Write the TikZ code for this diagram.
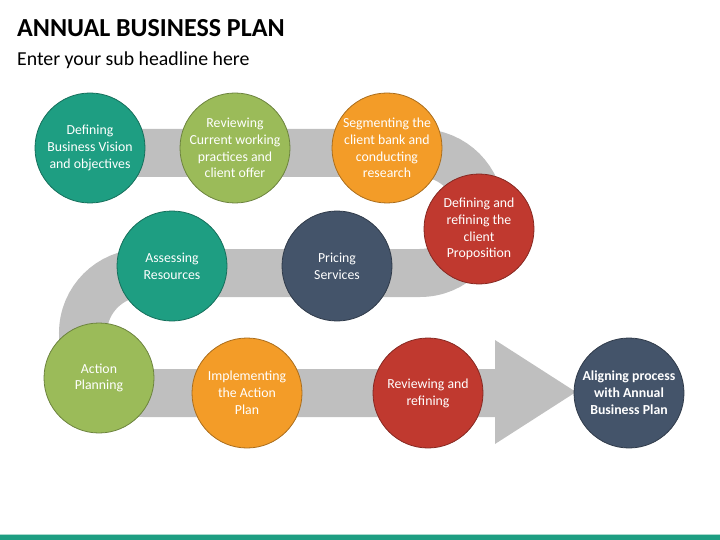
\documentclass[tikz,border=0pt]{standalone}
\usepackage{fontspec}
\setmainfont{Carlito}
\definecolor{cteal}{HTML}{1E9E82}
\definecolor{cgreen}{HTML}{9BBB59}
\definecolor{corange}{HTML}{F39C28}
\definecolor{cred}{HTML}{C0392F}
\definecolor{cslate}{HTML}{44546A}
\definecolor{cband}{HTML}{BFBFBF}
\definecolor{clight}{HTML}{A9D9CD}
\begin{document}
\begin{tikzpicture}[x=1pt,y=-1pt,
  stage/.style={circle,minimum size=110pt,inner sep=0pt,line width=0.8pt,
    text=white,align=center,font=\fontsize{13.8}{16.8}\selectfont},
  tealc/.style={stage,fill=cteal,draw=cteal!70!black},
  greenc/.style={stage,fill=cgreen,draw=cgreen!70!black},
  orangec/.style={stage,fill=corange,draw=corange!70!black},
  redc/.style={stage,fill=cred,draw=cred!70!black},
  slatec/.style={stage,fill=cslate,draw=cslate!70!black},
  band/.style={draw=cband,line width=48pt,line cap=butt}]
\useasboundingbox (0,0) rectangle (720,540);
% title
\node[anchor=base west,inner sep=0pt,font=\fontsize{26}{30}\selectfont\bfseries] (title) at (17,37) {ANNUAL BUSINESS PLAN};
\node[anchor=base west,inner sep=0pt,font=\fontsize{19.8}{23}\selectfont] (sub) at (17,66) {Enter your sub headline here};
% band
\draw[band] (90,153) -- (420,153) arc[start angle=-90,end angle=90,radius=60]
  -- (143,273) arc[start angle=270,end angle=90,radius=60] -- (497,393);
\fill[cband] (495,340) -- (576,392) -- (495,444) -- cycle;
% circles
\node[tealc] (c1) at (90,148) {Defining\\Business Vision\\and objectives};
\node[greenc] (c2) at (235,148) {Reviewing\\Current working\\practices and\\client offer};
\node[orangec] (c3) at (387,148) {Segmenting the\\client bank and\\conducting\\research};
\node[redc] (c4) at (479,229) {Defining and\\refining the\\client\\Proposition};
\node[tealc] (c5) at (172,266) {Assessing\\Resources};
\node[slatec] (c6) at (337,266) {Pricing\\Services};
\node[greenc] (c7) at (99,378) {Action\\Planning};
\node[orangec] (c8) at (247,393) {Implementing\\the Action\\Plan};
\node[redc] (c9) at (428,393) {Reviewing and\\refining};
\node[slatec,font=\fontsize{13.8}{16.8}\selectfont\bfseries] (c10) at (629,393) {Aligning process\\with Annual\\Business Plan};
% bottom bar
\fill[clight] (0,533.5) rectangle (720,535);
\fill[cteal] (0,535) rectangle (720,540);
\end{tikzpicture}
\end{document}
